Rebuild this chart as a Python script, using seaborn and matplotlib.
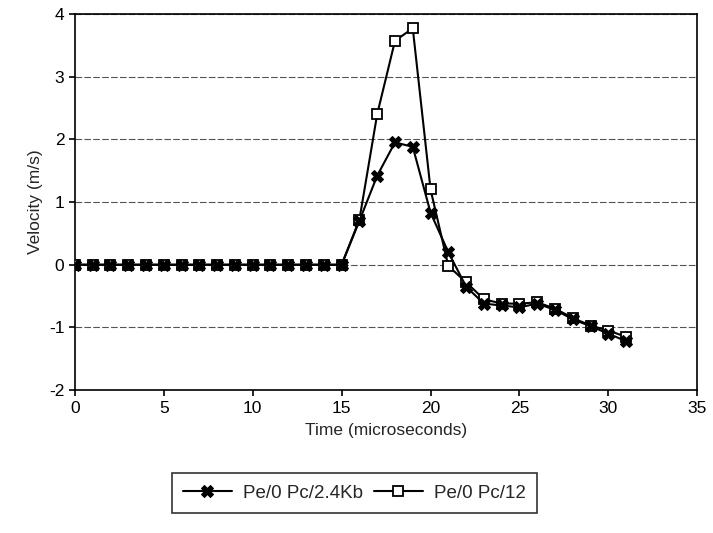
import matplotlib
matplotlib.use("Agg")
import matplotlib.pyplot as plt
import seaborn as sns
import pandas as pd

sns.set_style("white")
plt.rcParams['font.family'] = ['Liberation Sans', 'DejaVu Sans']
plt.rcParams['axes.unicode_minus'] = False

time = list(range(0, 32))
vel_24kb = [0]*16 + [0.70, 1.42, 1.95, 1.88, 0.83, 0.20, -0.35, -0.62, -0.65, -0.68,
                     -0.62, -0.72, -0.87, -0.98, -1.10, -1.22]
vel_12 = [0]*16 + [0.72, 2.40, 3.57, 3.77, 1.20, -0.02, -0.28, -0.55, -0.62, -0.62,
                   -0.60, -0.70, -0.85, -0.97, -1.05, -1.15]
labels = ["Pe/0 Pc/2.4Kb", "Pe/0 Pc/12"]

df1 = pd.DataFrame({"t": time, "v": vel_24kb})
df2 = pd.DataFrame({"t": time, "v": vel_12})

fig = plt.figure(figsize=(7.13, 5.33), dpi=100)
ax = fig.add_axes([0.105, 0.268, 0.873, 0.706])

sns.lineplot(data=df1, x="t", y="v", ax=ax, color="black", lw=1.5,
             marker="X", markersize=8, markerfacecolor="black", markeredgecolor="black",
             label=labels[0], zorder=4)
sns.lineplot(data=df2, x="t", y="v", ax=ax, color="black", lw=1.5,
             marker="s", markersize=7, markerfacecolor="white", markeredgecolor="black",
             markeredgewidth=1.3, label=labels[1], zorder=3)

ax.set_xlim(0, 35)
ax.set_ylim(-2, 4)
ax.set_xticks(range(0, 36, 5))
ax.set_yticks(range(-2, 5))
ax.yaxis.grid(True, color="#555555", linestyle=(0, (6, 2)), lw=0.8)
ax.xaxis.grid(False)
for s in ax.spines.values():
    s.set_color("black")
    s.set_linewidth(1.2)
ax.tick_params(axis="both", direction="out", length=4, width=1.2, colors="black",
               labelsize=12.5, bottom=True, left=True)
ax.set_xlabel("Time (microseconds)", fontsize=12.5)
ax.set_ylabel("Velocity (m/s)", fontsize=12.5)
ax.xaxis.labelpad = 5

handles, labs = ax.get_legend_handles_labels()
ax.legend_.remove()
leg = fig.legend(handles, labs, loc="center", bbox_to_anchor=(0.497, 0.075), ncol=2,
                 frameon=True, fancybox=False, edgecolor="black", fontsize=13.5,
                 handlelength=2.6, columnspacing=0.6, handletextpad=0.6, borderpad=0.6,
                 borderaxespad=0)
leg.get_frame().set_linewidth(1.2)

fig.savefig("out.png", dpi=100)
